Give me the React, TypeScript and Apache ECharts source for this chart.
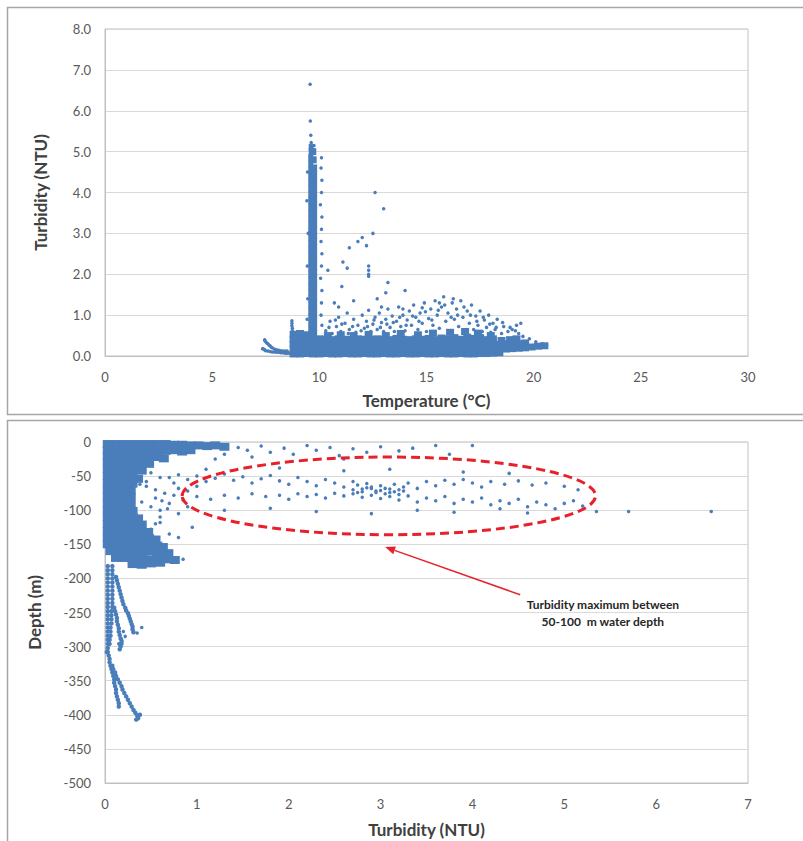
import React, { useEffect, useRef } from "react";
import * as echarts from "echarts";

// ---------- Top panel: Turbidity vs Temperature ----------
const tempTicks = [0, 5, 10, 15, 20, 25, 30];
const turbTicksTop = [0, 1, 2, 3, 4, 5, 6, 7, 8];

// dense column near 9.6-9.8 °C
const tempColumn: number[][] = [
  [9.6,0.5],[9.6,0.65],[9.6,0.8],[9.6,0.95],[9.6,1.1],[9.6,1.25],[9.6,1.4],[9.6,1.55],[9.6,1.7],[9.6,1.85],
  [9.6,2.0],[9.6,2.15],[9.6,2.3],[9.6,2.45],[9.6,2.6],[9.6,2.75],[9.6,2.9],[9.6,3.05],[9.6,3.2],[9.6,3.35],
  [9.6,3.5],[9.6,3.65],[9.6,3.8],[9.6,3.95],[9.6,4.1],[9.6,4.25],[9.6,4.4],[9.6,4.55],[9.6,4.7],[9.6,4.85],[9.62,5.0],[9.62,5.1],
  [9.78,0.55],[9.78,0.7],[9.78,0.85],[9.78,1.0],[9.78,1.15],[9.78,1.3],[9.78,1.45],[9.78,1.6],[9.78,1.75],[9.78,1.9],
  [9.78,2.05],[9.78,2.2],[9.78,2.35],[9.78,2.5],[9.78,2.65],[9.78,2.8],[9.78,2.95],[9.78,3.1],[9.78,3.25],[9.78,3.4],
  [9.78,3.55],[9.78,3.7],[9.78,3.85],[9.78,4.0],[9.78,4.15],[9.78,4.3],[9.78,4.45],[9.78,4.6],[9.76,4.8],[9.74,5.0]
];

// dense base cloud
const tempBase: number[][] = [
  [8.8,0.05],[9.1,0.05],[9.4,0.06],[9.7,0.05],[10.0,0.05],[10.3,0.06],[10.6,0.05],[10.9,0.05],[11.2,0.06],[11.5,0.05],[11.8,0.05],[12.1,0.06],[12.4,0.05],[12.7,0.05],[13.0,0.06],[13.3,0.05],[13.6,0.05],[13.9,0.06],[14.2,0.05],[14.5,0.05],[14.8,0.06],[15.1,0.05],[15.4,0.05],[15.7,0.06],[16.0,0.05],[16.3,0.05],[16.6,0.06],[16.9,0.05],[17.2,0.05],[17.5,0.06],[17.8,0.06],[18.1,0.07],[18.4,0.08],
  [8.8,0.17],[9.1,0.17],[9.4,0.18],[9.7,0.17],[10.0,0.17],[10.3,0.18],[10.6,0.17],[10.9,0.17],[11.2,0.18],[11.5,0.17],[11.8,0.17],[12.1,0.18],[12.4,0.17],[12.7,0.17],[13.0,0.18],[13.3,0.17],[13.6,0.17],[13.9,0.18],[14.2,0.17],[14.5,0.17],[14.8,0.18],[15.1,0.17],[15.4,0.17],[15.7,0.18],[16.0,0.17],[16.3,0.17],[16.6,0.18],[16.9,0.17],[17.2,0.17],[17.5,0.18],[17.8,0.17],[18.1,0.17],[18.4,0.18],[18.7,0.17],[19.0,0.18],[19.3,0.19],[19.6,0.2],[19.9,0.22],[20.2,0.24],[20.5,0.25],
  [8.8,0.29],[9.1,0.3],[9.4,0.29],[9.7,0.29],[10.0,0.3],[10.3,0.29],[10.6,0.29],[10.9,0.3],[11.2,0.29],[11.5,0.29],[11.8,0.3],[12.1,0.29],[12.4,0.29],[12.7,0.3],[13.0,0.29],[13.3,0.29],[13.6,0.3],[13.9,0.29],[14.2,0.29],[14.5,0.3],[14.8,0.29],[15.1,0.29],[15.4,0.3],[15.7,0.29],[16.0,0.3],[16.3,0.31],[16.6,0.3],[16.9,0.32],[17.2,0.3],[17.5,0.31],[17.8,0.29],[18.1,0.3],[18.4,0.28],[18.7,0.3],[19.0,0.29],[19.3,0.3],[19.6,0.32],
  [8.8,0.41],[9.1,0.42],[9.4,0.41],[9.7,0.4],[10.0,0.42],[10.3,0.41],[10.6,0.4],[10.9,0.42],[11.2,0.41],[11.5,0.4],[11.8,0.42],[12.1,0.41],[12.4,0.4],[12.7,0.42],[13.0,0.41],[13.3,0.4],[13.6,0.43],[13.9,0.41],[14.2,0.4],[14.5,0.42],[14.8,0.41],[15.1,0.43],[15.4,0.4],[15.7,0.44],[16.0,0.42],[16.3,0.45],[16.6,0.41],[16.9,0.46],[17.2,0.43],[17.5,0.45],[17.8,0.4],[18.1,0.42],[18.5,0.38],[18.9,0.4],[19.2,0.42],
  [8.8,0.53],[9.1,0.55],[9.4,0.52],[10.4,0.5],[11.0,0.52],[11.6,0.5],[12.3,0.53],[13.1,0.5],[13.8,0.55],[14.6,0.52],[15.3,0.56],[16.1,0.58],[16.8,0.6],[17.4,0.56],[18.0,0.5]
];

// sparse points, hook, spike and outliers
const tempSparse: number[][] = [
  [9.57,6.65],[9.58,5.75],[9.6,5.4],[9.62,5.22],[9.75,5.15],
  [10.1,4.85],[10.08,4.6],[10.12,4.3],[10.1,4.0],[10.05,3.7],[10.12,3.4],[10.1,3.1],[10.08,2.8],[10.12,2.5],[10.1,2.2],[10.06,1.9],[10.12,1.6],[10.1,1.3],[10.08,1.0],[10.12,0.75],
  [9.45,4.5],[9.42,3.8],[9.48,3.0],[9.44,2.2],[9.46,1.4],[9.43,0.9],
  [8.72,0.86],[8.72,0.8],[8.72,0.74],[8.74,0.68],[8.74,0.62],
  [7.45,0.4],[7.5,0.35],[7.55,0.32],[7.6,0.3],[7.65,0.27],[7.7,0.25],[7.75,0.22],[7.8,0.2],[7.9,0.17],[8.0,0.15],[8.1,0.14],[8.2,0.13],[8.3,0.12],[8.4,0.12],[8.5,0.12],
  [7.35,0.18],[7.4,0.17],[7.45,0.15],[7.5,0.13],[7.6,0.12],[7.7,0.11],[7.8,0.1],[7.9,0.1],[8.0,0.09],[8.1,0.09],[8.2,0.08],[8.3,0.08],[8.4,0.07],[8.5,0.07],[8.6,0.07],[7.45,0.38],
  [12.6,4.0],[13.0,3.6],[12.5,3.0],[12.0,2.9],[11.8,2.8],[11.4,2.65],[12.2,2.7],[11.1,2.3],[11.3,2.15],[10.4,2.1],
  [12.3,2.2],[12.3,2.1],[12.3,2.0],[12.3,1.95],[13.2,1.8],[13.1,1.55],[11.05,1.7],[14.0,1.6],[11.6,1.35],[10.7,1.3],[12.7,1.4],[10.9,1.2],
  [10.3,0.62],[10.5,0.85],[10.6,0.55],[10.8,0.72],[10.9,0.95],[11.0,0.6],[11.2,0.8],[11.3,1.05],[11.4,0.65],[11.6,0.9],[11.7,0.58],[11.8,0.75],
  [12.0,1.0],[12.1,0.68],[12.2,0.85],[12.3,1.12],[12.4,0.6],[12.5,0.78],[12.6,0.95],[12.7,0.65],[12.8,1.05],[12.9,0.82],[13.0,0.6],[13.1,0.9],
  [13.2,1.15],[13.3,0.7],[13.4,0.98],[13.5,0.6],[13.6,0.85],[13.7,1.2],[13.8,0.72],[13.9,1.0],[14.0,0.62],[14.1,0.88],[14.2,1.1],[14.3,0.75],
  [14.4,1.25],[14.5,0.95],[14.6,0.65],[14.7,1.05],[14.8,0.8],[14.9,1.3],[15.0,0.6],[15.1,0.92],[15.2,1.15],[15.3,0.75],[15.4,1.35],[15.5,1.0],
  [15.6,0.68],[15.7,1.2],[15.8,1.45],[15.9,0.85],[16.0,1.05],[16.1,0.62],[16.2,1.3],[16.3,0.9],[16.4,1.15],[16.5,0.72],[16.6,1.35],[16.7,0.95],
  [16.8,0.6],[16.9,1.1],[17.0,0.8],[17.1,1.25],[17.2,0.65],[17.3,0.98],[17.4,0.75],[17.5,1.1],[17.6,0.6],[17.7,0.88],[17.8,0.7],[17.9,1.0],
  [18.0,0.58],[18.1,0.8],[18.2,0.65],[18.3,0.9],[18.5,0.55],[18.6,0.72],[18.8,0.6],[19.0,0.65],[19.2,0.75],[19.3,0.55],[19.5,0.48],
  [19.8,0.42],[20.1,0.35],[20.4,0.3],[20.6,0.26],
  [10.45,0.7],[10.75,0.88],[11.05,0.78],[11.35,0.55],[11.55,0.72],[11.95,0.62],[12.25,0.72],[12.55,0.88],[12.85,0.7],[13.15,0.78],
  [13.45,0.82],[13.75,0.95],[14.05,0.75],[14.35,0.98],[14.65,0.85],[14.95,1.08],[15.25,0.88],[15.55,1.12],[15.85,1.25],[16.15,0.95],
  [16.45,1.0],[16.75,1.2],[17.05,1.0],[17.35,0.85],[17.65,0.95],[17.95,0.78],[18.25,0.7],[18.55,0.82],[18.9,0.7],[19.15,0.62],
  [19.4,0.8],[16.25,1.4],[15.6,1.3],[14.8,1.18],[13.9,1.15],[12.9,1.2]
];

// ---------- Bottom panel: Depth vs Turbidity ----------
const turbTicksBottom = [0, 1, 2, 3, 4, 5, 6, 7];
const depthTicks = [-500, -450, -400, -350, -300, -250, -200, -150, -100, -50, 0];

const depthBlob: number[][] = [
  [0.03,-3],[0.12,-3],[0.21,-3],[0.3,-3],[0.39,-3],[0.48,-3],[0.57,-3],[0.66,-3],[0.75,-4],[0.84,-4],[0.93,-5],[1.02,-5],[1.11,-6],[1.2,-5],[1.3,-7],
  [0.03,-12],[0.12,-12],[0.21,-12],[0.3,-12],[0.39,-12],[0.48,-13],[0.57,-12],[0.66,-13],[0.75,-12],[0.84,-14],[0.93,-12],
  [0.03,-21],[0.12,-21],[0.21,-21],[0.3,-21],[0.39,-22],[0.48,-21],[0.57,-22],[0.64,-24],
  [0.03,-30],[0.12,-30],[0.21,-30],[0.3,-30],[0.39,-31],[0.48,-32],
  [0.03,-40],[0.12,-40],[0.21,-40],[0.3,-40],[0.4,-42],
  [0.03,-50],[0.12,-50],[0.21,-50],[0.3,-51],[0.36,-54],
  [0.03,-60],[0.12,-60],[0.21,-60],[0.3,-61],
  [0.03,-70],[0.12,-70],[0.21,-70],[0.28,-71],
  [0.03,-80],[0.12,-80],[0.21,-80],[0.28,-81],
  [0.03,-90],[0.12,-90],[0.21,-90],[0.28,-92],
  [0.03,-100],[0.12,-100],[0.21,-100],[0.3,-101],
  [0.03,-110],[0.12,-110],[0.21,-110],[0.3,-110],[0.36,-112],
  [0.03,-120],[0.12,-120],[0.21,-120],[0.3,-120],[0.4,-121],
  [0.03,-130],[0.12,-130],[0.21,-130],[0.3,-130],[0.39,-130],[0.47,-132],
  [0.03,-140],[0.12,-140],[0.21,-140],[0.3,-140],[0.39,-140],[0.48,-141],[0.55,-143],
  [0.03,-150],[0.12,-150],[0.21,-150],[0.3,-150],[0.39,-150],[0.48,-151],[0.57,-152],[0.63,-154],
  [0.06,-160],[0.15,-160],[0.24,-160],[0.33,-160],[0.42,-161],[0.51,-160],[0.6,-162],[0.69,-163],
  [0.12,-170],[0.21,-170],[0.3,-171],[0.39,-170],[0.48,-172],[0.57,-170],[0.66,-172],[0.76,-173],
  [0.3,-179],[0.4,-180],[0.5,-178],[0.6,-177]
];

// deep near-bottom profiles
const depthProfiles: number[][] = [
  [0.03,-182],[0.03,-188],[0.03,-194],[0.03,-200],[0.03,-206],[0.03,-212],[0.03,-218],[0.03,-224],[0.03,-230],[0.03,-236],[0.03,-242],
  [0.03,-248],[0.03,-254],[0.03,-260],[0.03,-266],[0.03,-272],[0.03,-278],[0.03,-284],[0.03,-290],[0.03,-296],[0.03,-302],[0.02,-308],
  [0.08,-182],[0.08,-188],[0.08,-194],[0.08,-200],[0.08,-206],[0.08,-212],[0.08,-218],[0.08,-224],[0.08,-230],[0.08,-236],[0.08,-242],
  [0.07,-248],[0.07,-254],[0.07,-260],[0.07,-266],[0.06,-272],[0.06,-278],[0.06,-284],[0.05,-290],[0.05,-296],
  [0.12,-198],[0.13,-203],[0.14,-208],[0.15,-213],[0.16,-218],[0.17,-223],[0.18,-228],[0.19,-233],[0.2,-238],[0.22,-243],[0.23,-247],
  [0.25,-251],[0.26,-255],[0.27,-259],[0.28,-263],[0.29,-267],[0.3,-271],[0.3,-275],[0.31,-279],
  [0.1,-243],[0.11,-248],[0.12,-253],[0.13,-258],[0.13,-263],[0.14,-268],[0.15,-273],[0.15,-278],[0.16,-283],[0.17,-288],[0.18,-292],
  [0.18,-296],[0.17,-300],[0.16,-304],
  [0.03,-308],[0.04,-313],[0.05,-318],[0.05,-323],[0.06,-328],[0.07,-333],[0.08,-338],[0.09,-343],[0.1,-348],[0.1,-353],[0.11,-358],
  [0.12,-363],[0.12,-368],[0.13,-373],[0.14,-378],[0.15,-383],[0.15,-388],
  [0.08,-328],[0.09,-333],[0.11,-338],[0.12,-343],[0.14,-348],[0.16,-353],[0.18,-358],[0.19,-363],[0.21,-368],[0.23,-373],[0.25,-378],
  [0.27,-383],[0.29,-388],[0.31,-393],[0.33,-397],[0.35,-401],[0.36,-405],[0.34,-407],[0.38,-400]
];

const depthSparse: number[][] = [
  // surface scatter
  [1.45,-8],[1.55,-12],[1.7,-6],[1.8,-15],[1.95,-9],[2.05,-18],[2.2,-5],[2.3,-12],[2.45,-8],[2.55,-20],[2.7,-10],[2.85,-15],
  [3.0,-7],[3.2,-13],[3.35,-9],[3.6,-5],[4.0,-5],[3.75,-18],[2.6,-25],[1.6,-22],[1.3,-18],[1.2,-25],
  // upper band of the maximum
  [0.7,-52],[0.8,-48],[0.9,-55],[1.0,-50],[1.1,-58],[1.2,-53],[1.3,-47],[1.4,-56],[1.5,-51],[1.6,-60],[1.7,-54],[1.8,-49],
  [1.9,-57],[2.0,-62],[2.1,-52],[2.2,-58],[2.3,-64],[2.4,-55],[2.5,-60],[2.6,-66],[2.7,-58],[2.75,-63],[2.8,-69],[2.85,-61],
  [2.9,-66],[2.95,-72],[3.0,-64],[3.05,-68],[3.1,-74],[3.15,-62],[3.2,-70],[3.25,-66],[3.3,-60],[3.4,-68],[3.5,-58],[3.6,-64],
  [3.7,-56],[3.8,-62],[3.9,-55],[4.0,-60],[4.1,-66],[4.2,-58],[4.35,-62],[4.5,-57],[4.65,-63],[4.8,-60],[5.0,-65],[5.15,-70],
  // lower band of the maximum
  [1.0,-80],[1.15,-84],[1.3,-78],[1.45,-82],[1.6,-76],[1.75,-80],[1.9,-78],[2.0,-84],[2.1,-76],[2.2,-80],[2.3,-77],[2.4,-82],
  [2.5,-75],[2.6,-79],[2.7,-76],[2.8,-81],[2.9,-78],[3.0,-83],[3.1,-80],[3.2,-85],[3.3,-79],[3.4,-88],[3.5,-82],[3.6,-86],
  [3.7,-80],[3.8,-90],[3.9,-84],[4.0,-88],[4.1,-82],[4.2,-92],[4.3,-86],[4.4,-90],[4.5,-84],[4.6,-95],[4.7,-88],[4.8,-92],
  [4.9,-98],[5.0,-90],[5.1,-86],[5.2,-94],
  [2.7,-70],[2.8,-73],[2.9,-68],[3.0,-71],[3.05,-76],[3.1,-69],[2.95,-74],[2.85,-67],[3.15,-73],[3.2,-77],[2.75,-74],[3.25,-72],
  [0.9,-95],[1.3,-100],[1.8,-97],[2.3,-102],[2.9,-105],[3.4,-100],[3.8,-103],[4.3,-98],[4.6,-104],[5.35,-102],[5.7,-102],[6.6,-102],
  [1.1,-40],[1.9,-38],[2.6,-42],[3.1,-40],[3.9,-44],[4.4,-46],[0.6,-110],[0.8,-105],[0.55,-120],[0.7,-135],[0.95,-125],
  // near the dense blob
  [0.5,-45],[0.6,-52],[0.75,-60],[0.45,-65],[0.55,-70],[0.65,-75],[0.7,-90],[0.5,-95],[0.4,-88],[0.38,-62],[0.45,-58],[0.55,-82],
  [0.62,-86],[0.68,-98],[0.8,-140],[0.85,-172],[0.5,-128],[0.6,-118],[0.9,-72],[0.85,-85],[0.8,-68],[1.0,-65],[0.75,-78],[0.6,-100],
  [0.2,-278],[0.22,-285],[0.18,-290],[0.15,-296],[0.4,-272],[0.35,-280]
];

// annotation (data coordinates of the bottom panel)
const ellipseCenter = [3.09, -79];
const ellipseRadius = [2.25, 57];
const arrowTail = [4.52, -224];
const arrowHead = [3.05, -154];
const noteAnchor = [5.42, -250];
const noteText = "Turbidity maximum between\n50-100  m water depth";

const BLUE = "#4a7ebb";
const FONT = "Lato, 'Open Sans', sans-serif";

export default function App() {
  const ref = useRef<HTMLDivElement>(null);
  useEffect(() => {
    if (!ref.current) return;
    const chart = echarts.init(ref.current, null, { renderer: "svg" });
    const axisLabel = { color: "#595959", fontSize: 13, fontFamily: FONT, margin: 14 };
    const nameStyle = { color: "#404040", fontSize: 17, fontWeight: "bold" as const, fontFamily: FONT };
    const dot = { color: BLUE, opacity: 1 };
    chart.setOption({
      animation: false,
      grid: [
        { left: 105, right: 55, top: 29, height: 327, show: true, borderColor: "#c0c0c0", borderWidth: 1 },
        { left: 105, right: 55, top: 442, height: 341, show: true, borderColor: "#c0c0c0", borderWidth: 1 }
      ],
      xAxis: [
        {
          gridIndex: 0, type: "value", min: tempTicks[0], max: tempTicks[tempTicks.length - 1], interval: 5,
          name: "Temperature (°C)", nameLocation: "middle", nameGap: 36, nameTextStyle: nameStyle,
          axisLine: { lineStyle: { color: "#c0c0c0" } }, axisTick: { show: false }, splitLine: { show: false },
          axisLabel
        },
        {
          gridIndex: 1, type: "value", min: turbTicksBottom[0], max: turbTicksBottom[turbTicksBottom.length - 1], interval: 1,
          name: "Turbidity (NTU)", nameLocation: "middle", nameGap: 38, nameTextStyle: nameStyle,
          axisLine: { onZero: false, lineStyle: { color: "#c0c0c0" } }, axisTick: { show: false }, splitLine: { show: false },
          axisLabel
        }
      ],
      yAxis: [
        {
          gridIndex: 0, type: "value", min: turbTicksTop[0], max: turbTicksTop[turbTicksTop.length - 1], interval: 1,
          name: "Turbidity (NTU)", nameLocation: "middle", nameGap: 56, nameTextStyle: nameStyle,
          axisLine: { show: true, lineStyle: { color: "#c0c0c0" } }, axisTick: { show: false },
          splitLine: { lineStyle: { color: "#d9d9d9" } },
          axisLabel: { ...axisLabel, formatter: (v: number) => v.toFixed(1) }
        },
        {
          gridIndex: 1, type: "value", min: depthTicks[0], max: depthTicks[depthTicks.length - 1], interval: 50,
          name: "Depth (m)", nameLocation: "middle", nameGap: 62, nameTextStyle: nameStyle,
          axisLine: { show: true, onZero: false, lineStyle: { color: "#c0c0c0" } }, axisTick: { show: false },
          splitLine: { lineStyle: { color: "#d9d9d9" } },
          axisLabel
        }
      ],
      series: [
        { type: "scatter", xAxisIndex: 0, yAxisIndex: 0, data: tempBase, symbol: "rect", symbolSize: [8, 7], itemStyle: dot, clip: true },
        { type: "scatter", xAxisIndex: 0, yAxisIndex: 0, data: tempColumn, symbol: "rect", symbolSize: [5, 7], itemStyle: dot, clip: true },
        { type: "scatter", xAxisIndex: 0, yAxisIndex: 0, data: tempSparse, symbolSize: 3.5, itemStyle: dot, clip: true },
        { type: "scatter", xAxisIndex: 1, yAxisIndex: 1, data: depthBlob, symbol: "rect", symbolSize: [10, 8], itemStyle: dot, clip: true },
        { type: "scatter", xAxisIndex: 1, yAxisIndex: 1, data: depthProfiles, symbolSize: 4.5, itemStyle: dot, clip: true },
        { type: "scatter", xAxisIndex: 1, yAxisIndex: 1, data: depthSparse, symbolSize: 3.5, itemStyle: dot, clip: true }
      ]
    });

    const px = (pt: number[]) => chart.convertToPixel({ xAxisIndex: 1, yAxisIndex: 1 }, pt) as number[];
    const c = px(ellipseCenter);
    const e1 = px([ellipseCenter[0] + ellipseRadius[0], ellipseCenter[1] + ellipseRadius[1]]);
    const t = px(arrowTail);
    const h = px(arrowHead);
    const dx = h[0] - t[0], dy = h[1] - t[1];
    const len = Math.sqrt(dx * dx + dy * dy);
    const ux = dx / len, uy = dy / len;
    const hl = 10, hw = 4;
    const bx = h[0] - ux * hl, by = h[1] - uy * hl;
    const n = px(noteAnchor);
    const RED = "#e8202a";

    chart.setOption({
      graphic: [
        { type: "rect", silent: true, shape: { x: 7.5, y: 7.5, width: 800, height: 407 }, style: { fill: "none", stroke: "#a6a6a6", lineWidth: 1.5 } },
        { type: "rect", silent: true, shape: { x: 7.5, y: 420.5, width: 800, height: 430 }, style: { fill: "none", stroke: "#a6a6a6", lineWidth: 1.5 } },
        {
          type: "ellipse", z: 10,
          shape: { cx: c[0], cy: c[1], rx: Math.abs(e1[0] - c[0]), ry: Math.abs(e1[1] - c[1]) },
          style: { fill: "none", stroke: RED, lineWidth: 3, lineDash: [9, 5] }
        },
        { type: "line", z: 10, shape: { x1: t[0], y1: t[1], x2: bx, y2: by }, style: { stroke: RED, lineWidth: 1.5 } },
        {
          type: "polygon", z: 10,
          shape: { points: [[h[0], h[1]], [bx - uy * hw, by + ux * hw], [bx + uy * hw, by - ux * hw]] },
          style: { fill: RED }
        },
        {
          type: "text", z: 10, x: n[0], y: n[1],
          style: {
            text: noteText, fontSize: 12, fontWeight: "bold", fontFamily: FONT, fill: "#262626",
            align: "center", verticalAlign: "middle", lineHeight: 17
          }
        }
      ]
    });
    return () => chart.dispose();
  }, []);
  return <div ref={ref} style={{ position: "absolute", left: 0, top: 0, width: 803, height: 841 }} />;
}
